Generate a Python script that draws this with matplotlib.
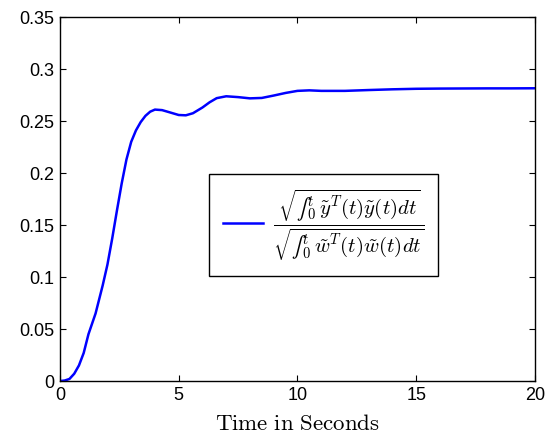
import matplotlib
matplotlib.use('Agg')
import matplotlib.pyplot as plt

# response ratio over time (read from simulation output)
t = [0, 0.2, 0.4, 0.6, 0.8, 1.0, 1.2, 1.5, 1.8, 2.0, 2.2, 2.4, 2.6, 2.8, 3.0,
     3.2, 3.4, 3.6, 3.8, 4.0, 4.3, 4.6, 5.0, 5.3, 5.6, 6.0, 6.3, 6.6, 7.0, 7.5,
     8.0, 8.5, 9.0, 9.5, 10.0, 10.5, 11.0, 12.0, 13.0, 14.0, 15.0, 16.0, 17.0,
     18.0, 19.0, 20.0]
ratio = [0, 0.0005, 0.002, 0.007, 0.015, 0.027, 0.045, 0.065, 0.092, 0.112,
         0.137, 0.164, 0.190, 0.213, 0.230, 0.241, 0.249, 0.255, 0.259, 0.261,
         0.2605, 0.2585, 0.2558, 0.2555, 0.2575, 0.263, 0.268, 0.272, 0.2738,
         0.273, 0.2718, 0.2722, 0.2745, 0.277, 0.279, 0.2795, 0.279, 0.279,
         0.2798, 0.2805, 0.281, 0.2812, 0.2813, 0.2814, 0.2814, 0.2815]

xticks = [0, 5, 10, 15, 20]
yticks = [0, 0.05, 0.1, 0.15, 0.2, 0.25, 0.3, 0.35]
ytick_labels = ['0', '0.05', '0.1', '0.15', '0.2', '0.25', '0.3', '0.35']

plt.rcParams['font.family'] = ['Liberation Sans', 'DejaVu Sans']
plt.rcParams['mathtext.fontset'] = 'cm'

fig = plt.figure(figsize=(5.5, 4.4), dpi=100)
ax = fig.add_axes([0.109, 0.134, 0.8636, 0.8273])

# text-size integral sign instead of the big \int operator
label = (r'$\dfrac{\sqrt{∫_0^t \, \tilde{y}^T(t)\tilde{y}(t)dt}}'
         r'{\sqrt{∫_0^t \, \tilde{w}^T(t)\tilde{w}(t)dt}}$')
ax.plot(t, ratio, color='#0000ff', lw=1.8, label=label)

ax.set_xlim(0, 20)
ax.set_ylim(0, 0.35)
ax.set_xticks(xticks)
ax.set_yticks(yticks)
ax.set_yticklabels(ytick_labels)
ax.tick_params(direction='in', length=4, width=0.8, top=True, right=True,
               labelsize=13, pad=4)
for s in ax.spines.values():
    s.set_linewidth(1.0)

ax.set_xlabel(r'$\mathrm{Time\ in\ Seconds}$', fontsize=16.5, labelpad=6)

leg = ax.legend(loc='center', bbox_to_anchor=(0.555, 0.4286), fontsize=15,
                fancybox=False, framealpha=1, edgecolor='black',
                handlelength=1.95, handletextpad=0.45, borderpad=0.65)
leg.get_frame().set_linewidth(1.0)

fig.savefig('out.png', dpi=100)
